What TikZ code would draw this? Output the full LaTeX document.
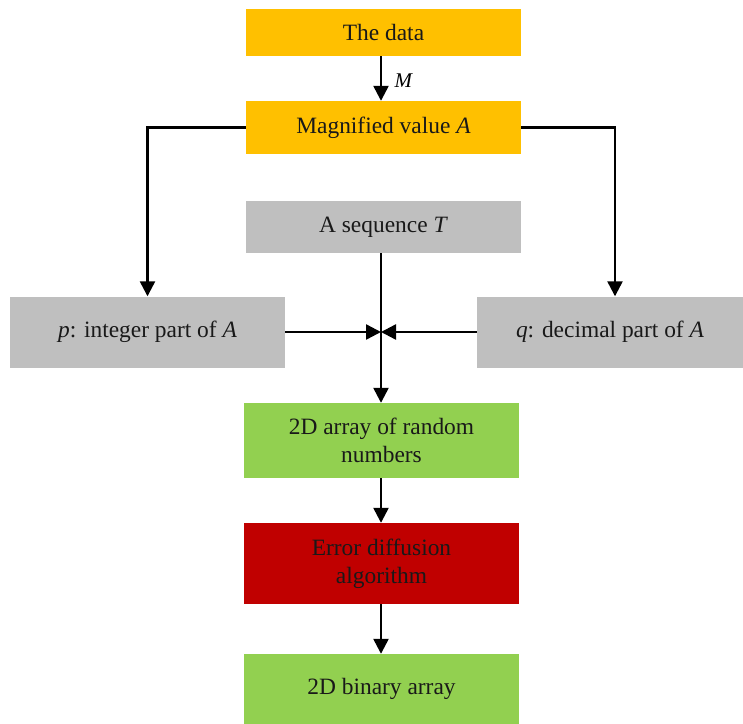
\documentclass[tikz,border=0pt]{standalone}
\usepackage{fontspec}
\setmainfont{Liberation Serif}
\usetikzlibrary{arrows.meta}
\definecolor{boxorange}{HTML}{FFC000}
\definecolor{boxgray}{HTML}{BFBFBF}
\definecolor{boxgreen}{HTML}{92D050}
\definecolor{boxred}{HTML}{C00000}
\tikzset{
  blk/.style={rectangle, inner sep=0pt, align=center, text=black!90,
    font=\fontsize{23.5}{28}\selectfont},
  flow/.style={draw=black, line width=2.4bp, -{Triangle[width=15bp,length=15bp]}},
}
\begin{document}
\begin{tikzpicture}[x=1bp, y=-1bp]
  \useasboundingbox (0,0) rectangle (743,724);
  % boxes, placed by their centres
  \node[blk, fill=boxorange, minimum width=275bp, minimum height=47bp] (data) at (383.5,32.5) {The data};
  \node[blk, fill=boxorange, minimum width=275bp, minimum height=53bp] (mag) at (383.5,127.5) {Magnified value \textit{A}};
  \node[blk, fill=boxgray, minimum width=275bp, minimum height=52bp] (seq) at (383.5,227) {A sequence \textit{T}};
  \node[blk, fill=boxgray, minimum width=275bp, minimum height=71bp] (p) at (147.5,332) {\textit{p}: integer part of \textit{A}};
  \node[blk, fill=boxgray, minimum width=266bp, minimum height=71bp] (q) at (610,332) {\textit{q}: decimal part of \textit{A}};
  \node[blk, fill=boxgreen, minimum width=275bp, minimum height=75bp] (rand) at (381.5,440.5) {2D array of random\\numbers};
  \node[blk, fill=boxred, minimum width=275bp, minimum height=81bp] (err) at (381.5,563.5) {Error diffusion\\algorithm};
  \node[blk, fill=boxgreen, minimum width=275bp, minimum height=70bp] (bin) at (381.5,689) {2D binary array};

  % junction where the two parts meet the sequence
  \coordinate (j) at (381,332);
  \coordinate (qin) at (615,0);

  \draw[flow] (data.south -| j) -- node[right, xshift=9bp, yshift=-2bp, font=\fontsize{21}{24}\selectfont\itshape] {M} (mag.north -| j);
  \draw[flow] (mag.west) -| (p.north);
  \draw[flow] (mag.east) -| (q.north -| qin);
  \draw[flow] (seq.south -| j) -- (rand.north -| j);
  \draw[flow] (p.east |- j) -- (j);
  \draw[flow] (q.west |- j) -- (j);
  \draw[flow] (rand.south -| j) -- (err.north -| j);
  \draw[flow] (err.south -| j) -- (bin.north -| j);
\end{tikzpicture}
\end{document}
